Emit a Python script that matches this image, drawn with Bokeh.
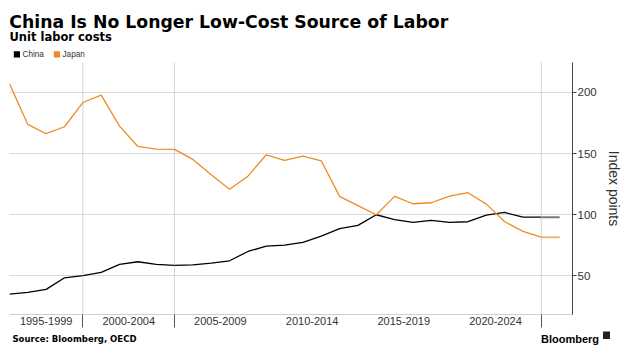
from bokeh.plotting import figure
from bokeh.layouts import column
from bokeh.models import Span, FixedTicker, Range1d
from bokeh.core.properties import value
from bokeh.embed import file_html
from bokeh.resources import INLINE

# ---- data ----
years = list(range(1995, 2026))
china = [35.1, 36.5, 39.0, 48.5, 50.2, 52.9, 59.4, 61.6, 59.4, 58.6,
         59.1, 60.5, 62.4, 70.0, 74.3, 75.2, 77.4, 82.5, 88.6, 91.3,
         100.0, 96.1, 93.7, 95.4, 93.7, 94.3, 99.7, 101.9, 98.0, 98.0, 98.0]
japan = [207.0, 173.8, 166.2, 171.9, 191.7, 197.7, 172.4, 155.8, 153.6, 153.4,
         145.2, 132.7, 120.9, 131.5, 149.0, 144.4, 147.9, 144.1, 115.0, 107.5,
         100.0, 115.0, 109.0, 109.8, 115.2, 118.0, 108.7, 94.3, 86.4, 81.7, 81.7]

period_centers = [1997, 2001.5, 2006.5, 2011.5, 2016.5, 2021.5]
period_labels = ["1995-1999", "2000-2004", "2005-2009", "2010-2014", "2015-2019", "2020-2024"]
divider_years = [1999, 2004, 2024]
y_ticks = [50, 100, 150, 200]
series_names = ["China", "Japan"]

title_text = "China Is No Longer Low-Cost Source of Labor"
subtitle_text = "Unit labor costs"
source_text = "Source: Bloomberg, OECD"
brand_text = "Bloomberg"
y_label = "Index points"

CHINA_C = "#000000"
JAPAN_C = "#F08A24"
W = 632


def blank(height, y0, y1):
    f = figure(width=W, height=height, output_backend="svg", toolbar_location=None,
               x_range=Range1d(0, W), y_range=Range1d(y0, y1),
               x_axis_type=None, y_axis_type=None, title=None,
               min_border_left=0, min_border_right=0, min_border_top=0, min_border_bottom=0,
               frame_align=False)
    f.outline_line_color = None
    f.xgrid.visible = False
    f.ygrid.visible = False
    f.background_fill_color = "white"
    f.border_fill_color = "white"
    return f


# ---- header: title, subtitle, legend ----
head = blank(62, 62, 0)
head.text(x=[8.8], y=[21.6], text=[title_text], text_font=value("DejaVu Sans"),
          text_font_style="bold", text_font_size="17.3px", text_color="black",
          text_baseline="alphabetic", text_align="left")
head.text(x=[9], y=[36.3], text=[subtitle_text], text_font=value("DejaVu Sans"),
          text_font_style="bold", text_font_size="11.5px", text_color="black",
          text_baseline="alphabetic", text_align="left")
head.quad(left=[13.3, 53.3], right=[19.5, 59.5], top=[50.8, 50.8], bottom=[57.0, 57.0],
          fill_color=[CHINA_C, JAPAN_C], line_color=None)
head.text(x=[22, 62], y=[54, 54], text=series_names, text_font=value("Liberation Sans"),
          text_font_size="8.2px", text_color="#333333", text_baseline="middle", text_align="left")

# ---- main chart ----
p = figure(width=W, height=268, output_backend="svg", toolbar_location=None, title=None,
           x_range=Range1d(1995, 2025.7), y_range=Range1d(18.5, 224.4),
           y_axis_location="right", frame_align=False,
           min_border_left=9, min_border_right=60, min_border_top=0, min_border_bottom=16)
p.outline_line_color = None
p.background_fill_color = "white"
p.border_fill_color = "white"

p.xgrid.grid_line_color = None
p.ygrid.ticker = FixedTicker(ticks=y_ticks)
p.ygrid.grid_line_color = "#b4b4b4"
p.ygrid.grid_line_dash = "1 1"
for yr in divider_years:
    p.add_layout(Span(location=yr, dimension="height", line_color="#a8a8a8",
                      line_dash="1 1", line_width=1))

n = len(years) - 1
p.line(years[:n], china[:n], line_color=CHINA_C, line_width=1.3)
p.line(years[:n], japan[:n], line_color=JAPAN_C, line_width=1.3)
p.line(years[n - 1:], china[n - 1:], line_color="#7a7a7a", line_width=2)
p.line(years[n - 1:], japan[n - 1:], line_color="#F5B27A", line_width=2)

ya = p.yaxis[0]
ya.ticker = FixedTicker(ticks=y_ticks)
ya.axis_line_color = "#444444"
ya.major_tick_line_color = "#444444"
ya.major_tick_out = 4
ya.major_tick_in = 0
ya.minor_tick_line_color = None
ya.major_label_standoff = 1
ya.major_label_text_font = "Liberation Sans"
ya.major_label_text_font_size = "11.5px"
ya.major_label_text_color = "#333333"
ya.axis_label = y_label
ya.axis_label_text_font = "Liberation Sans"
ya.axis_label_text_font_size = "14px"
ya.axis_label_text_font_style = "normal"
ya.axis_label_text_color = "#333333"
ya.axis_label_standoff = 6

xa = p.xaxis[0]
xa.ticker = FixedTicker(ticks=period_centers, minor_ticks=divider_years)
xa.major_label_overrides = {c: l for c, l in zip(period_centers, period_labels)}
xa.axis_line_color = "#cfcfcf"
xa.major_tick_line_color = None
xa.major_tick_out = 0
xa.major_tick_in = 0
xa.minor_tick_line_color = "#555555"
xa.minor_tick_out = 13
xa.minor_tick_in = 0
xa.major_label_standoff = -11
xa.major_label_text_font = "Liberation Sans"
xa.major_label_text_font_size = "11px"
xa.major_label_text_color = "#333333"

# ---- footer ----
foot = blank(32, 362, 330)
foot.text(x=[12], y=[338.7], text=[source_text], text_font=value("DejaVu Sans"),
          text_font_style="bold", text_font_size="8.5px", text_color="black",
          text_baseline="alphabetic", text_align="left")
foot.text(x=[540.5], y=[338.5], text=[brand_text], text_font=value("Liberation Sans"),
          text_font_style="bold", text_font_size="11px", text_color="black",
          text_baseline="alphabetic", text_align="left")
foot.quad(left=[602.5], right=[609.5], top=[331], bottom=[338.5],
          fill_color="#222222", line_color=None)

layout = column(head, p, foot, spacing=0)
open("out.html", "w").write(file_html(layout, INLINE))
